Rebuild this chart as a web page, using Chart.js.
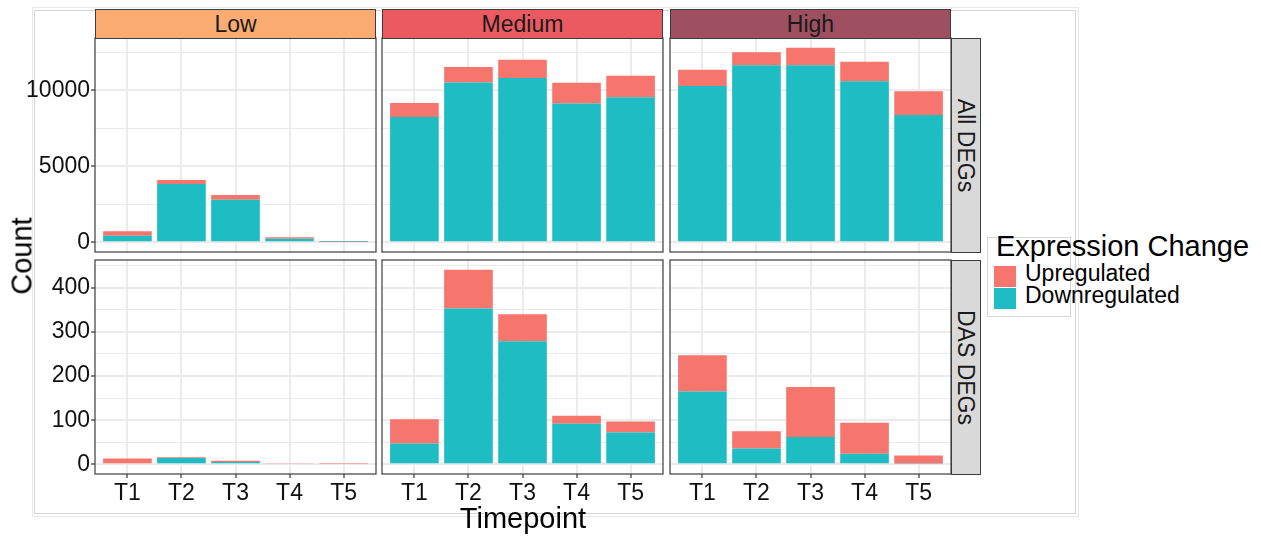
<!DOCTYPE html>
<html>
<head>
<meta charset="utf-8">
<title>Differentially expressed genes by stress level and timepoint</title>
<script src="https://cdn.jsdelivr.net/npm/chart.js@4.4.1/dist/chart.umd.min.js"></script>
<style>
  html, body { margin: 0; padding: 0; background: #ffffff; }
  #figure { position: relative; width: 1261px; height: 536px; overflow: hidden;
            font-family: "Liberation Sans", Arial, sans-serif; color: #1a1a1a; }
  .frame { position: absolute; box-sizing: border-box; }
  canvas { position: absolute; }
  .strip { position: absolute; box-sizing: border-box; border: 1.2px solid #3d3d3d;
           display: flex; align-items: center; justify-content: center;
           font-size: 23px; color: #1a1a1a; white-space: nowrap; }
  .strip.side { background: #d9d9d9; }
  .strip.side span { display: inline-block; transform: rotate(90deg); }
  .label { position: absolute; white-space: nowrap; line-height: 1; }
  .key { position: absolute; width: 22px; height: 21px; }
</style>
</head>
<body>
<div id="figure">
  <div class="frame" style="left:32px;top:7px;width:1047px;height:510px;border:1px solid #e8e8e8;"></div>
  <div class="frame" style="left:34px;top:10px;width:1042px;height:504px;border:1px solid #d6d6d6;"></div>
</div>
<script>
// Facet labels and categories
const timepoints = ['T1', 'T2', 'T3', 'T4', 'T5'];
const levels = ['Low', 'Medium', 'High'];
const geneSets = ['All DEGs', 'DAS DEGs'];

// All DEGs counts per timepoint
const allLowDown = [430, 3830, 2800, 240, 30];
const allLowUp = [290, 270, 310, 90, 60];
const allMediumDown = [8250, 10520, 10810, 9130, 9540];
const allMediumUp = [920, 1010, 1200, 1370, 1420];
const allHighDown = [10280, 11640, 11640, 10590, 8380];
const allHighUp = [1070, 870, 1160, 1290, 1550];

// DAS DEGs counts per timepoint
const dasLowDown = [0, 14, 5, 0, 0];
const dasLowUp = [13, 2, 3, 2, 1];
const dasMediumDown = [47, 353, 279, 92, 72];
const dasMediumUp = [55, 88, 61, 18, 25];
const dasHighDown = [165, 36, 62, 24, 2];
const dasHighUp = [82, 39, 113, 70, 18];

// Axis breaks per row: labelled majors and unlabelled minors
const allMajorTicks = [0, 5000, 10000];
const allMinorTicks = [2500, 7500, 12500];
const dasMajorTicks = [0, 100, 200, 300, 400];
const dasMinorTicks = [50, 150, 250, 350, 450];

const UP_COLOR = '#F6766E';
const DOWN_COLOR = '#1DBDC3';
const STRIP_COLORS = ['#F9AB72', '#EB5A61', '#9E4F60'];
const FONT = '"Liberation Sans", Arial, sans-serif';

const rows = [
  { name: geneSets[0], down: [allLowDown, allMediumDown, allHighDown], up: [allLowUp, allMediumUp, allHighUp],
    major: allMajorTicks, minor: allMinorTicks },
  { name: geneSets[1], down: [dasLowDown, dasMediumDown, dasHighDown], up: [dasLowUp, dasMediumUp, dasHighUp],
    major: dasMajorTicks, minor: dasMinorTicks }
];

// Panel geometry
const colLeft = [95, 382, 670];
const rowTop = [38, 260];
const panelW = 281;
const panelH = 214;
const yAxisW = 80;
const xAxisH = 34;

const fig = document.getElementById('figure');

const panelFrame = {
  id: 'panelFrame',
  afterDraw(chart) {
    const { ctx, chartArea: a } = chart;
    ctx.save();
    ctx.strokeStyle = '#3d3d3d';
    ctx.lineWidth = 1.2;
    ctx.strokeRect(a.left, a.top, a.right - a.left, a.bottom - a.top);
    ctx.restore();
  }
};

function rowRange(row) {
  let top = 0;
  for (let c = 0; c < 3; c++) {
    row.down[c].forEach((d, i) => { top = Math.max(top, d + row.up[c][i]); });
  }
  return { min: -0.05 * top, max: 1.05 * top };
}

rows.forEach((row, r) => {
  const range = rowRange(row);
  const yTicks = row.major.concat(row.minor).filter(v => v <= range.max).sort((a, b) => a - b);
  const isMajor = v => row.major.includes(v);
  const isBottom = r === rows.length - 1;

  levels.forEach((level, c) => {
    const isLeft = c === 0;
    const padL = isLeft ? 0 : 2;
    const yW = isLeft ? yAxisW : 0;
    const xH = isBottom ? xAxisH : 0;
    const padB = isBottom ? 0 : 2;

    const canvas = document.createElement('canvas');
    const w = padL + yW + panelW + 2;
    const h = 2 + panelH + xH + padB;
    canvas.width = w; canvas.height = h;
    canvas.style.width = w + 'px'; canvas.style.height = h + 'px';
    canvas.style.left = (colLeft[c] - yW - padL) + 'px';
    canvas.style.top = (rowTop[r] - 2) + 'px';
    fig.appendChild(canvas);

    new Chart(canvas, {
      type: 'bar',
      data: {
        datasets: [
          { label: 'Downregulated', data: row.down[c].map((v, i) => ({ x: i + 1, y: v })),
            backgroundColor: DOWN_COLOR, stack: 'count' },
          { label: 'Upregulated', data: row.up[c].map((v, i) => ({ x: i + 1, y: v })),
            backgroundColor: UP_COLOR, stack: 'count' }
        ]
      },
      options: {
        responsive: false,
        animation: false,
        devicePixelRatio: 1,
        layout: { padding: { top: 2, right: 2, left: padL, bottom: padB } },
        plugins: { legend: { display: false }, tooltip: { enabled: false } },
        datasets: { bar: { categoryPercentage: 1, barPercentage: 0.9, borderWidth: 0 } },
        scales: {
          x: {
            type: 'linear', min: 0.4, max: 5.6, stacked: true, offset: false,
            afterBuildTicks: s => { s.ticks = timepoints.map((t, i) => ({ value: i + 1 })); },
            afterFit: s => { s.height = xH; s.paddingLeft = 0; s.paddingRight = 0; },
            ticks: {
              display: isBottom, autoSkip: false, maxRotation: 0, padding: 2,
              callback: v => timepoints[v - 1],
              font: { family: FONT, size: 23 }, color: '#111111'
            },
            grid: { offset: false, color: '#ebebeb', lineWidth: 2, drawTicks: isBottom, tickLength: 4,
                    tickColor: '#333333', tickWidth: 1.2 },
            border: { display: false }
          },
          y: {
            type: 'linear', min: range.min, max: range.max, stacked: true,
            afterBuildTicks: s => { s.ticks = yTicks.map(v => ({ value: v })); },
            afterFit: s => { s.width = yW; s.paddingTop = 0; s.paddingBottom = 0; },
            ticks: {
              display: isLeft, autoSkip: false, padding: 1,
              callback: v => (isMajor(v) ? String(v) : ''),
              font: { family: FONT, size: 23 }, color: '#111111'
            },
            grid: {
              color: '#ebebeb',
              lineWidth: ctx => (ctx.tick && isMajor(ctx.tick.value) ? 2 : 1),
              drawTicks: isLeft, tickLength: 4, tickWidth: 1.2,
              tickColor: ctx => (ctx.tick && isMajor(ctx.tick.value) ? '#333333' : 'rgba(0,0,0,0)')
            },
            border: { display: false }
          }
        }
      },
      plugins: [panelFrame]
    });

    if (r === 0) {
      const strip = document.createElement('div');
      strip.className = 'strip';
      strip.style.left = colLeft[c] + 'px';
      strip.style.top = '9px';
      strip.style.width = panelW + 'px';
      strip.style.height = '30px';
      strip.style.background = STRIP_COLORS[c];
      strip.textContent = level;
      fig.appendChild(strip);
    }
  });

  const side = document.createElement('div');
  side.className = 'strip side';
  side.style.left = (colLeft[2] + panelW) + 'px';
  side.style.top = rowTop[r] + 'px';
  side.style.width = '30px';
  side.style.height = (panelH + 1) + 'px';
  const span = document.createElement('span');
  span.textContent = row.name;
  side.appendChild(span);
  fig.appendChild(side);
});

// Axis titles
function addLabel(text, css) {
  const el = document.createElement('div');
  el.className = 'label';
  el.textContent = text;
  Object.assign(el.style, css);
  fig.appendChild(el);
  return el;
}
addLabel('Count', { left: '22px', top: '256px', fontSize: '29px', color: '#000',
  transform: 'translate(-50%, -50%) rotate(-90deg)' });
addLabel('Timepoint', { left: '523px', top: '518px', fontSize: '29px', color: '#000',
  transform: 'translate(-50%, -50%)' });

// Legend
const legendBox = document.createElement('div');
legendBox.className = 'frame';
Object.assign(legendBox.style, { left: '987px', top: '237px', width: '84px', height: '80px',
  border: '1px solid #d6d6d6', background: '#ffffff' });
fig.appendChild(legendBox);
addLabel('Expression Change', { left: '996px', top: '232px', fontSize: '29px', color: '#000' });
const legendItems = [
  { text: 'Upregulated', color: UP_COLOR, top: 266 },
  { text: 'Downregulated', color: DOWN_COLOR, top: 288 }
];
legendItems.forEach(item => {
  const k = document.createElement('div');
  k.className = 'key';
  k.style.left = '994px';
  k.style.top = item.top + 'px';
  k.style.background = item.color;
  fig.appendChild(k);
  addLabel(item.text, { left: '1025px', top: (item.top - 4) + 'px', fontSize: '23px', color: '#000' });
});
</script>
</body>
</html>
